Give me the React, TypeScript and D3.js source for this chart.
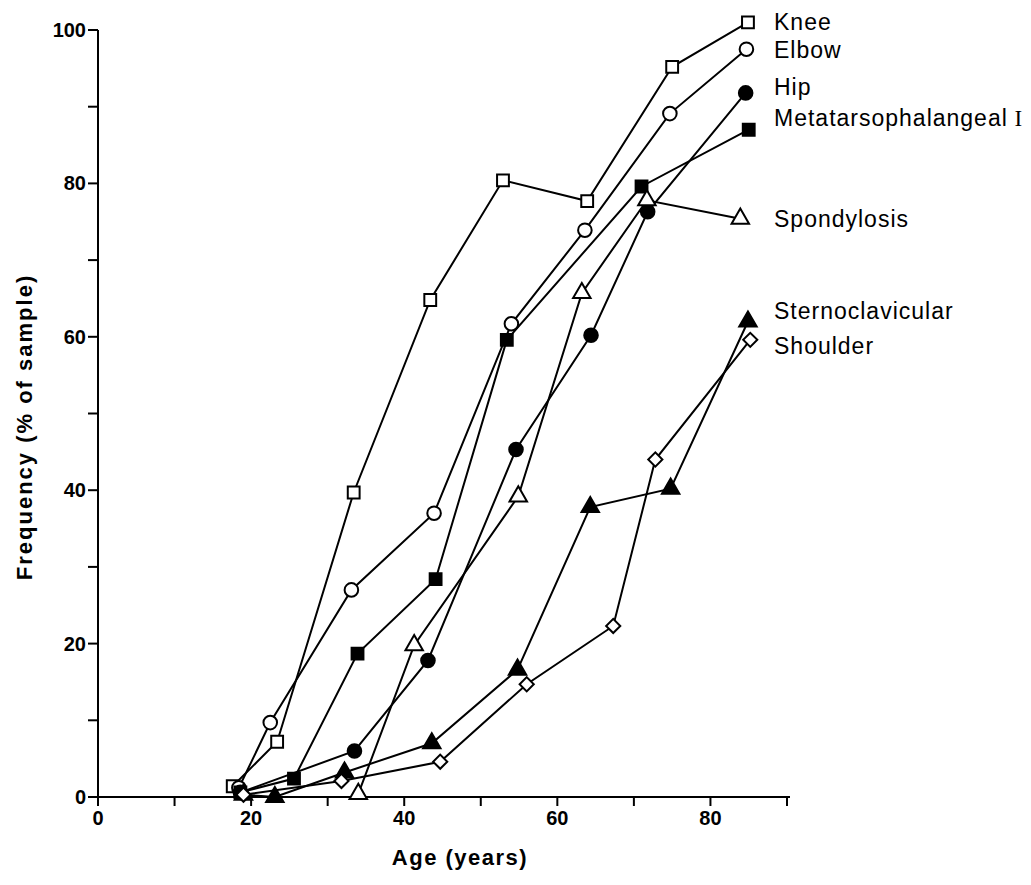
import React from "react";
import * as d3 from "d3";

// Frequency of joint degeneration by age (age in years, % of sample)
const knee: [number, number][] = [[17.6, 1.4], [23.4, 7.2], [33.4, 39.7], [43.4, 64.8], [52.9, 80.4], [63.9, 77.7], [75.0, 95.2], [84.9, 101]];
const elbow: [number, number][] = [[18.4, 1.2], [22.5, 9.7], [33.1, 27.0], [43.9, 37.0], [54.0, 61.7], [63.6, 73.9], [74.7, 89.1], [84.7, 97.5]];
const hip: [number, number][] = [[18.6, 0.6], [33.5, 6.0], [43.1, 17.8], [54.6, 45.3], [64.4, 60.2], [71.8, 76.3], [84.6, 91.8]];
const metatarsophalangeal: [number, number][] = [[18.6, 0.6], [25.6, 2.4], [33.9, 18.7], [44.1, 28.4], [53.4, 59.6], [71.0, 79.6], [85.0, 87.0]];
const spondylosis: [number, number][] = [[34.0, 0.4], [41.3, 19.8], [54.9, 39.2], [63.2, 65.7], [71.7, 77.8], [83.9, 75.4]];
const sternoclavicular: [number, number][] = [[19.0, 0.3], [23.1, 0.0], [32.2, 3.2], [43.6, 7.0], [54.8, 16.6], [64.3, 37.8], [74.8, 40.2], [84.9, 62.0]];
const shoulder: [number, number][] = [[19.0, 0.3], [31.8, 2.1], [44.7, 4.6], [56.0, 14.7], [67.3, 22.3], [72.8, 44.0], [85.2, 59.6]];

const xTicks = [0, 10, 20, 30, 40, 50, 60, 70, 80, 90];
const xTickLabels = ["0", "", "20", "", "40", "", "60", "", "80", ""];
const yTicks = [0, 10, 20, 30, 40, 50, 60, 70, 80, 90, 100];
const yTickLabels = ["0", "", "20", "", "40", "", "60", "", "80", "", "100"];

type Marker = "square" | "circle" | "triangle" | "diamond";

const series: { name: string; data: [number, number][]; marker: Marker; filled: boolean; labelY: number }[] = [
  { name: "Knee", data: knee, marker: "square", filled: false, labelY: 22 },
  { name: "Elbow", data: elbow, marker: "circle", filled: false, labelY: 50 },
  { name: "Hip", data: hip, marker: "circle", filled: true, labelY: 87 },
  { name: "Metatarsophalangeal", data: metatarsophalangeal, marker: "square", filled: true, labelY: 118 },
  { name: "Spondylosis", data: spondylosis, marker: "triangle", filled: false, labelY: 219 },
  { name: "Sternoclavicular", data: sternoclavicular, marker: "triangle", filled: true, labelY: 311 },
  { name: "Shoulder", data: shoulder, marker: "diamond", filled: false, labelY: 346 },
];

const W = 1031;
const H = 885;

const x = d3.scaleLinear().domain([0, 90]).range([98, 787]);
const y = d3.scaleLinear().domain([0, 100]).range([797, 30]);

const line = d3
  .line<[number, number]>()
  .x((d) => x(d[0]))
  .y((d) => y(d[1]));

const symbolPath = (m: Marker): string => {
  switch (m) {
    case "square":
      return d3.symbol(d3.symbolSquare, 140)() as string;
    case "circle":
      return d3.symbol(d3.symbolCircle, 145)() as string;
    case "triangle":
      return d3.symbol(d3.symbolTriangle, 132)() as string;
    case "diamond":
      return d3.symbol(d3.symbolSquare, 100)() as string;
  }
};

const sans = "'Liberation Sans', Arial, Helvetica, sans-serif";

export default function App() {
  return (
    <svg
      width={W}
      height={H}
      viewBox={`0 0 ${W} ${H}`}
      style={{ position: "absolute", left: 0, top: 0, background: "#fff" }}
    >
      <rect x={0} y={0} width={W} height={H} fill="#fff" />

      {/* y axis */}
      <line x1={x(0)} x2={x(0)} y1={y(100)} y2={y(0)} stroke="#000" strokeWidth={2} />
      {yTicks.map((t, i) => (
        <g key={`yt${t}`}>
          <line x1={x(0) - 10} x2={x(0)} y1={y(t)} y2={y(t)} stroke="#000" strokeWidth={2} />
          {yTickLabels[i] && (
            <text
              x={x(0) - 12}
              y={y(t)}
              textAnchor="end"
              dominantBaseline="central"
              fontFamily={sans}
              fontWeight="bold"
              fontSize={20}
              fill="#000"
            >
              {yTickLabels[i]}
            </text>
          )}
        </g>
      ))}

      {/* x axis */}
      <line x1={x(0)} x2={x(90) + 3} y1={y(0)} y2={y(0)} stroke="#000" strokeWidth={2} />
      {xTicks.map((t, i) => (
        <g key={`xt${t}`}>
          <line x1={x(t)} x2={x(t)} y1={y(0)} y2={y(0) + 9} stroke="#000" strokeWidth={2} />
          {xTickLabels[i] && (
            <text
              x={x(t)}
              y={y(0) + 21}
              textAnchor="middle"
              dominantBaseline="central"
              fontFamily={sans}
              fontWeight="bold"
              fontSize={20}
              fill="#000"
            >
              {xTickLabels[i]}
            </text>
          )}
        </g>
      ))}

      {/* axis titles */}
      <text
        x={460}
        y={857}
        textAnchor="middle"
        dominantBaseline="central"
        fontFamily={sans}
        fontWeight="bold"
        fontSize={22}
        letterSpacing={1.5}
        fill="#000"
      >
        Age (years)
      </text>
      <text
        transform="translate(24,427) rotate(-90)"
        textAnchor="middle"
        dominantBaseline="central"
        fontFamily={sans}
        fontWeight="bold"
        fontSize={22}
        letterSpacing={2}
        fill="#000"
      >
        Frequency (% of sample)
      </text>

      {/* series lines */}
      {series.map((s) => (
        <path key={`l${s.name}`} d={line(s.data) as string} fill="none" stroke="#000" strokeWidth={2} />
      ))}

      {/* series markers */}
      {series.map((s) =>
        s.data.map((d, i) => (
          <path
            key={`m${s.name}${i}`}
            d={symbolPath(s.marker)}
            transform={`translate(${x(d[0])},${y(d[1])})${s.marker === "diamond" ? " rotate(45)" : ""}`}
            fill={s.filled ? "#000" : "#fff"}
            stroke="#000"
            strokeWidth={2}
          />
        ))
      )}

      {/* end labels */}
      {series.map((s) => (
        <text
          key={`t${s.name}`}
          x={774}
          y={s.labelY}
          dominantBaseline="central"
          fontFamily={sans}
          fontSize={23}
          letterSpacing={1}
          fill="#000"
        >
          {s.name}
          {s.name === "Metatarsophalangeal" && (
            <tspan fontFamily="'Liberation Serif', 'Times New Roman', serif"> I</tspan>
          )}
        </text>
      ))}
    </svg>
  );
}
